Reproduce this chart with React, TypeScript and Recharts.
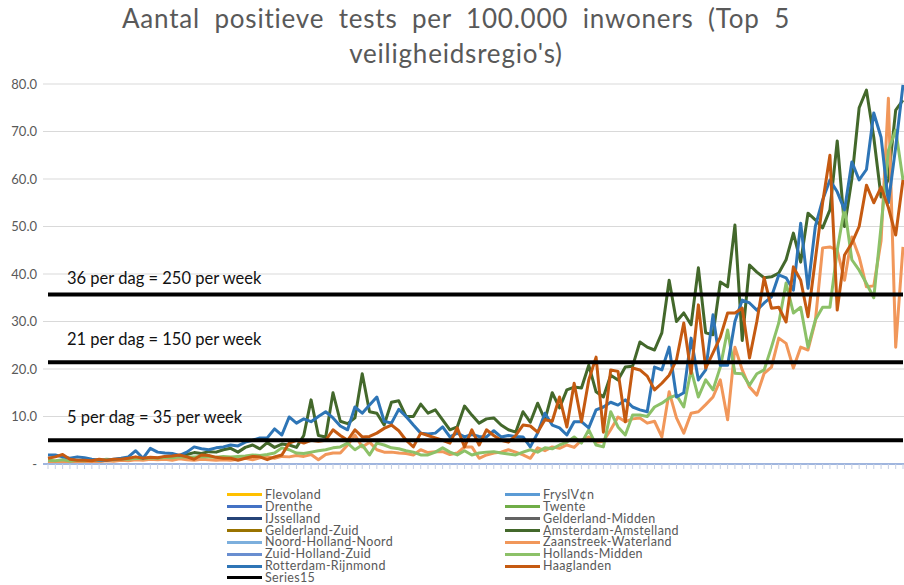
import { LineChart, Line, XAxis, YAxis, CartesianGrid, ReferenceLine } from 'recharts';

// Aantal positieve tests per 100.000 inwoners, per dag (top 5 regio's)
const amsterdamAmstelland = [
    0.6, 0.5, 0.8, 0.4, 0.6, 0.5, 0.7, 0.6, 0.8, 0.9,
    0.8, 1, 1.1, 1, 1.3, 1.2, 1.5, 1.4, 1.8, 2,
    2.4, 2.2, 2.6, 2.5, 3, 3.3, 2.5, 3.5, 4, 3.2,
    4.5, 3.5, 4.2, 4, 3.5, 6, 13.5, 6, 5.7, 15,
    9, 8.5, 9.7, 19, 11, 10.7, 8.2, 13, 13.3, 10,
    10, 12.6, 10.7, 11.4, 9.3, 7.2, 7.8, 12.2, 10.3, 8.6,
    9.5, 9.7, 8.2, 7.2, 6.7, 11, 8.8, 12.8, 9.3, 15,
    11.8, 15.6, 16.2, 16, 20.8, 15.2, 14.1, 18.7, 17.7, 20.4,
    20.6, 25.7, 24.6, 24, 27.6, 38.7, 30, 31.8, 29.3, 41.3,
    27.6, 27.2, 38.3, 37.3, 50.3, 26, 41.9, 40.4, 39.2, 39.4,
    40.2, 43, 48.6, 42.5, 52.8, 51.4, 49.7, 53.5, 68, 50,
    60, 75, 78.7, 68.8, 56.2, 60, 74.5, 76.6,
];

const zaanstreekWaterland = [
    0.3, 0.3, 0.5, 0.4, 0.3, 0.5, 0.6, 0.5, 0.7, 0.6,
    0.8, 0.7, 0.9, 0.8, 1, 0.9, 1, 0.8, 1.1, 0.9,
    0.8, 1, 0.9, 0.8, 0.9, 0.8, 1, 1.2, 0.9, 1.3,
    1.5, 1.2, 1.6, 1.5, 1.8, 1.6, 2, 0.9, 2, 2.3,
    2.3, 4, 6.1, 3.6, 4.6, 3, 2.5, 2.5, 2.3, 2.2,
    1.9, 3, 2.4, 2.6, 2.6, 2, 2.3, 3.6, 3.6, 1.2,
    1.9, 2.3, 2.5, 3, 2.5, 1.9, 1.2, 3.4, 2.8, 3.6,
    3.3, 4, 3.5, 5, 5.7, 4.6, 4.8, 7.2, 9.9, 8.9,
    9.5, 9.7, 8.6, 9, 5.7, 15.2, 9.7, 6.5, 10.7, 11,
    12.5, 14.1, 17.7, 9.3, 24.6, 19.8, 16.2, 14.5, 19.1, 20.4,
    26.5, 25.4, 20.2, 24.6, 24, 30, 45.5, 45.7, 45, 38.7,
    47.8, 43.6, 37.3, 37.5, 47, 77, 24.6, 45.7,
];

const hollandsMidden = [
    0.8, 0.7, 0.9, 0.6, 0.8, 0.7, 0.9, 0.8, 1, 0.9,
    1.1, 1, 1.2, 1.1, 1.3, 1.2, 1.4, 1.3, 1.5, 1.4,
    1.5, 1.6, 1.5, 1.4, 1.6, 1.5, 1.6, 1.7, 1.9, 1.8,
    2, 2.3, 3.4, 3, 2.3, 2.2, 2.5, 2.8, 3, 3.4,
    3.6, 4.4, 3, 4, 1.9, 4.4, 4, 3.4, 3.2, 2.8,
    2.5, 1.9, 1.9, 2.5, 3.4, 2.5, 1.9, 2.8, 1.9, 2.3,
    2.5, 2.6, 2.3, 2.1, 1.9, 2.5, 3, 2.5, 3.4, 3.2,
    4, 4.6, 5.7, 4.4, 7.2, 4, 3.6, 11, 7.8, 6.1,
    10.3, 10.3, 10, 12, 12.8, 13.9, 14.5, 12, 19.8, 14.1,
    17.7, 15.6, 20.4, 28.2, 19.1, 19, 16.6, 19, 19.8, 24.6,
    29.7, 38.1, 31.8, 33, 24.6, 30.3, 33, 33, 45, 54,
    43, 40.8, 38, 35, 50, 66, 70.3, 59.8,
];

const rotterdamRijnmond = [
    1.9, 1.9, 1.5, 1.2, 1.5, 1.3, 1, 0.8, 0.8, 1,
    1.2, 1.5, 2.8, 1.2, 3.3, 2.5, 2.3, 2.2, 1.8, 2.5,
    3.6, 3.2, 3, 3.4, 3.6, 4, 3.8, 4.6, 5, 5.5,
    5.5, 7.4, 6.1, 9.9, 8.6, 9.5, 8.9, 10, 11, 9.7,
    8, 7.2, 12, 10.7, 12.4, 14.1, 9, 8.6, 11.5, 10,
    8.2, 6.5, 6.3, 6.5, 7.8, 5.7, 6.5, 5.7, 6.2, 5.8,
    5.7, 7, 5.7, 6, 5.8, 5.7, 3.6, 6.5, 10.7, 8.2,
    7.6, 6.1, 8.9, 8.9, 7.6, 11.4, 12, 13, 12.4, 13.5,
    12, 11.4, 11, 20.4, 19.8, 24.6, 14.1, 15, 26.5, 17.7,
    19.8, 31.4, 20.8, 20.8, 30, 34.5, 33.9, 32.4, 33.9, 35.2,
    39.8, 39.2, 36.6, 50.7, 37, 50, 55.6, 59.8, 57.3, 53.5,
    63.6, 59.8, 62, 73.9, 68.8, 55, 66.7, 79.8,
];

const haaglanden = [
    1.2, 1.5, 2, 1, 0.8, 0.8, 0.7, 1, 0.8, 1,
    1, 1.2, 1.5, 1.2, 1.4, 1.3, 1.6, 1.7, 1.9, 1.5,
    1, 1.9, 1.8, 1.4, 1.2, 1.2, 0.8, 1.2, 1.6, 1.5,
    0.9, 1.5, 1.9, 4.4, 5, 4.4, 5, 4.8, 5, 7.2,
    6, 5, 7.2, 5.7, 5.8, 6.5, 7.5, 8.2, 7, 5,
    3.6, 6.5, 6, 5.5, 5, 4.4, 7.6, 3.6, 7.2, 4,
    7.2, 6, 5, 4.6, 6, 8.2, 8, 6.7, 9.3, 9,
    14.1, 7.8, 17, 8.9, 17.7, 22.5, 6.7, 19.8, 19.5, 8.9,
    20.2, 19.8, 18.5, 15.6, 17, 18.7, 21.9, 29.7, 19.1, 33.5,
    20.2, 23.4, 26.7, 31.8, 31.8, 32.8, 22.3, 30, 39.2, 32.8,
    33, 29.9, 41.5, 38.7, 31, 43, 55, 65, 32.4, 44,
    46.5, 50, 58.7, 55, 58.3, 54, 48.2, 59.8,
];

// dagnummers als categorieën
const dagen = amsterdamAmstelland.map((_, i) => i + 1);

const yTicks = [0, 10, 20, 30, 40, 50, 60, 70, 80];

// Series15: signaalwaarden per dag
const drempels = [35.7, 21.4, 5];
const drempelLabels = ['36 per dag = 250 per week', '21 per dag = 150 per week', '5 per dag = 35 per week'];
const labelLift = [10, 17, 17];

const legendLeft = [
    { name: 'Flevoland', color: '#FFC000' },
    { name: 'Drenthe', color: '#4472C4' },
    { name: 'IJsselland', color: '#264478' },
    { name: 'Gelderland-Zuid', color: '#997300' },
    { name: 'Noord-Holland-Noord', color: '#7CAFDD' },
    { name: 'Zuid-Holland-Zuid', color: '#698ED0' },
    { name: 'Rotterdam-Rijnmond', color: '#2E75B6' },
    { name: 'Series15', color: '#000000' },
];

const legendRight = [
    { name: 'FryslV¢n', color: '#5B9BD5' },
    { name: 'Twente', color: '#70AD47' },
    { name: 'Gelderland-Midden', color: '#636363' },
    { name: 'Amsterdam-Amstelland', color: '#43682B' },
    { name: 'Zaanstreek-Waterland', color: '#F1975A' },
    { name: 'Hollands-Midden', color: '#8CC168' },
    { name: 'Haaglanden', color: '#C55A11' },
];

const series = [
    { key: 'amsterdam', values: amsterdamAmstelland, color: '#43682B' },
    { key: 'zaanstreek', values: zaanstreekWaterland, color: '#F1975A' },
    { key: 'hollandsMidden', values: hollandsMidden, color: '#8CC168' },
    { key: 'rotterdam', values: rotterdamRijnmond, color: '#2E75B6' },
    { key: 'haaglanden', values: haaglanden, color: '#C55A11' },
];

const data = dagen.map((dag, i) => {
    const row: Record<string, number> = { dag };
    series.forEach((s) => {
        row[s.key] = s.values[i];
    });
    return row;
});

const DrempelLabel = ({ viewBox, text, lift }: any) => (
    <text
        x={viewBox.x + 19}
        y={viewBox.y - lift}
        fontSize={16.5}
        fill="#111"
        fontFamily="Lato, sans-serif"
    >
        {text}
    </text>
);

const LegendColumn = ({ items, left }: { items: { name: string; color: string }[]; left: number }) => (
    <div style={{ position: 'absolute', left, top: 489 }}>
        {items.map((item) => (
            <div
                key={item.name}
                style={{ display: 'flex', alignItems: 'center', height: 11.86 }}
            >
                <div style={{ width: 35, height: 3, background: item.color, marginRight: 3 }} />
                <span
                    style={{
                        fontSize: 12.5,
                        letterSpacing: 0.35,
                        color: '#595959',
                        lineHeight: '11.86px',
                        whiteSpace: 'nowrap',
                    }}
                >
                    {item.name}
                </span>
            </div>
        ))}
    </div>
);

export default function App() {
    return (
        <div
            style={{
                position: 'absolute',
                left: 0,
                top: 0,
                width: 904,
                height: 585,
                overflow: 'hidden',
                background: '#fff',
                fontFamily: 'Lato, sans-serif',
            }}
        >
            <div
                style={{
                    position: 'absolute',
                    top: 1,
                    left: 0,
                    width: 912,
                    textAlign: 'center',
                    fontSize: 26,
                    lineHeight: '35px',
                    color: '#595959',
                    letterSpacing: 0.8,
                    wordSpacing: 7,
                }}
            >
                Aantal positieve tests per 100.000 inwoners (Top 5
                <br />
                veiligheidsregio's)
            </div>

            <LineChart
                width={912}
                height={585}
                data={data}
                margin={{ top: 84, right: 0, left: 0, bottom: 113 }}
            >
                <CartesianGrid vertical={false} stroke="#d9d9d9" />
                <XAxis
                    dataKey="dag"
                    interval={0}
                    height={8}
                    padding={{ left: 5, right: 9 }}
                    tickSize={5}
                    tickLine={{ stroke: '#c5cfe4' }}
                    axisLine={{ stroke: '#9fb5de', strokeWidth: 2 }}
                    tickFormatter={() => ''}
                />
                <YAxis
                    width={43}
                    domain={[0, 80]}
                    ticks={yTicks}
                    axisLine={false}
                    tickLine={false}
                    tickSize={0}
                    tickMargin={6}
                    tick={{ fontSize: 13, fill: '#595959' }}
                    tickFormatter={(v: number) => (v === 0 ? '-' : v.toFixed(1))}
                />
                {series.map((s) => (
                    <Line
                        key={s.key}
                        type="linear"
                        dataKey={s.key}
                        stroke={s.color}
                        strokeWidth={3}
                        strokeLinejoin="round"
                        dot={false}
                        isAnimationActive={false}
                    />
                ))}
                {drempels.map((d, i) => (
                    <ReferenceLine
                        key={d}
                        segment={[
                            { x: dagen[0], y: d },
                            { x: dagen[dagen.length - 1], y: d },
                        ]}
                        stroke="#000"
                        strokeWidth={4}
                        label={<DrempelLabel text={drempelLabels[i]} lift={labelLift[i]} />}
                    />
                ))}
            </LineChart>

            <LegendColumn items={legendLeft} left={227} />
            <LegendColumn items={legendRight} left={505} />
        </div>
    );
}
